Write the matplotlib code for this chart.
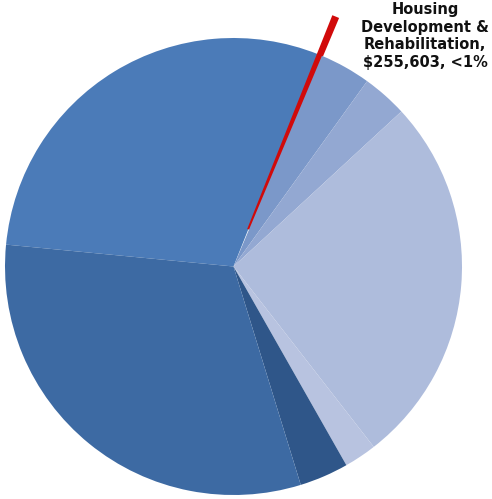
import matplotlib
matplotlib.use("Agg")
import matplotlib.pyplot as plt

# Spending by program, dollars (clockwise from the left edge)
programas = ["Program A", "Housing Development & Rehabilitation", "Program C",
             "Program D", "Program E", "Program F", "Program G", "Program H"]
montos = [25_700_000, 255_603, 3_150_000, 2_780_000,
          22_950_000, 2_000_000, 3_020_000, 27_250_000]
colores = ["#4b7bb8", "#d10a0a", "#7b98c9", "#93a8d2",
           "#aebcdc", "#b8c3e0", "#2f5689", "#3d6aa3"]
separar = [0, 0.175, 0, 0, 0, 0, 0, 0]

etiqueta = "Housing\nDevelopment &\nRehabilitation,\n$255,603, <1%"

fig = plt.figure(figsize=(4.92, 4.99), dpi=100)
ax = fig.add_axes([0, 0, 1, 1])

cunas, _ = ax.pie(montos, colors=colores, explode=separar, startangle=174.5,
                  counterclock=False, radius=1.0,
                  wedgeprops=dict(edgecolor="none", linewidth=0))

# the tiny slice gets an outline in its own colour so it stays visible
cunas[1].set_edgecolor(colores[1])
cunas[1].set_linewidth(2.2)
cunas[1].set_joinstyle("miter")

# limits chosen so the pie sits left of centre with room for the label
ax.set_aspect("auto")
ax.set_xlim(-1.0219, 1.1313)
ax.set_ylim(-1.0175, 1.1663)
ax.axis("off")

fig.text(0.864, 0.995, etiqueta, ha="center", va="top", fontsize=10.5,
         fontweight="bold", color="#111111", family="DejaVu Sans",
         linespacing=1.2)

fig.savefig("out.png", dpi=100)
